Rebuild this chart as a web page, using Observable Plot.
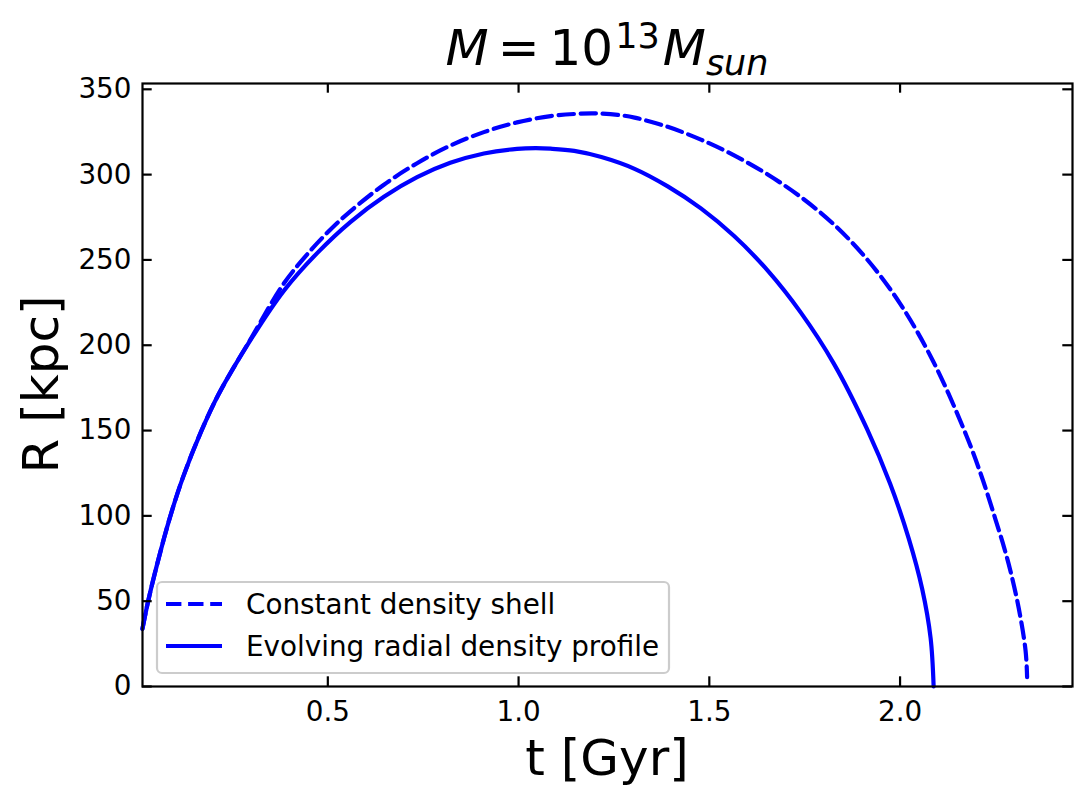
<!DOCTYPE html>
<html>
<head>
<meta charset="utf-8">
<script src="https://cdn.jsdelivr.net/npm/d3@7"></script>
<script src="https://cdn.jsdelivr.net/npm/@observablehq/plot@0.6"></script>
<style>
  html, body { margin: 0; padding: 0; background: white; }
  #chart { position: relative; width: 1092px; height: 804px; }
</style>
</head>
<body>
<div id="chart"></div>
<script>
// ---- data ----
const constT = [0.014, 0.029, 0.053, 0.086, 0.121, 0.168, 0.213, 0.300, 0.385, 0.455, 0.507, 0.559, 0.647, 0.734, 0.821, 0.909, 0.996, 1.084, 1.150, 1.200, 1.260, 1.304, 1.391, 1.478, 1.565, 1.652, 1.739, 1.826, 1.913, 2.000, 2.087, 2.174, 2.217, 2.250, 2.272, 2.289, 2.311, 2.329, 2.333];
const constR = [33.8, 50, 72, 99, 123, 149.5, 171, 204.5, 236.3, 255.6, 267.8, 278.5, 294.1, 306.7, 317, 324.9, 330.6, 334.3, 335.6, 335.9, 335.0, 333.4, 328, 320.5, 311.3, 300.2, 287, 270.9, 250.5, 224.4, 190.5, 147, 121, 98, 82, 68, 46, 21, 5.5];

const evolT = [0.014, 0.029, 0.053, 0.086, 0.121, 0.168, 0.213, 0.300, 0.385, 0.472, 0.559, 0.647, 0.734, 0.821, 0.909, 0.996, 1.045, 1.084, 1.146, 1.217, 1.304, 1.391, 1.478, 1.565, 1.652, 1.739, 1.826, 1.913, 1.974, 2.023, 2.058, 2.080, 2.088];
const evolR = [33.8, 50, 72, 99, 123, 149.5, 171, 204, 232, 254, 272.2, 287, 298.5, 306.9, 312.4, 315.1, 315.5, 315.2, 313.9, 310.3, 303.4, 293.1, 280.2, 264.0, 244.0, 219.4, 189.4, 151.1, 118.8, 86.5, 57.1, 28.5, 0];

const xTicks = [0.5, 1.0, 1.5, 2.0];
const yTicks = [0, 50, 100, 150, 200, 250, 300, 350];
const xDomain = [0.0142, 2.452];
const yDomain = [0, 353.4];

const seriesNames = ["Constant density shell", "Evolving radial density profile"];
const titleParts = { base: "M", eq: "=", ten: "10", exp: "13", sym: "M", sub: "sun" };
const xLabel = "t [Gyr]";
const yLabel = "R [kpc]";

// ---- build tables ----
const constData = constT.map((t, i) => ({t, r: constR[i]}));
const evolData = evolT.map((t, i) => ({t, r: evolR[i]}));

const W = 1092, H = 804;
const mTop = 83, mBottom = 118, mLeft = 142, mRight = 20;
const fw = W - mLeft - mRight, fh = H - mTop - mBottom;
const tickLen = 9.7, lw = 2.2;
const FONT = "DejaVu Sans";
const BLUE = "#0000ff";
const DASH = "15.4,6.7";

const plot = Plot.plot({
  width: W, height: H,
  marginTop: mTop, marginBottom: mBottom, marginLeft: mLeft, marginRight: mRight,
  style: {fontFamily: FONT, fontSize: "27.8px", background: "white", overflow: "visible"},
  x: {domain: xDomain, label: null},
  y: {domain: yDomain, label: null},
  marks: [
    Plot.line(constData, {x: "t", y: "r", stroke: BLUE, strokeWidth: 4.2, strokeDasharray: DASH, curve: "catmull-rom"}),
    Plot.line(evolData, {x: "t", y: "r", stroke: BLUE, strokeWidth: 4.2, curve: "catmull-rom"}),
    // inward ticks on all four sides
    Plot.ruleX(xTicks, {x: d => d, insetTop: fh - tickLen, stroke: "black", strokeWidth: lw}),
    Plot.ruleX(xTicks, {x: d => d, insetBottom: fh - tickLen, stroke: "black", strokeWidth: lw}),
    Plot.ruleY(yTicks, {y: d => d, insetRight: fw - tickLen, stroke: "black", strokeWidth: lw}),
    Plot.ruleY(yTicks, {y: d => d, insetLeft: fw - tickLen, stroke: "black", strokeWidth: lw}),
    Plot.frame({stroke: "black", strokeWidth: lw}),
    Plot.axisX(xTicks, {tickSize: 0, tickPadding: 15, fontSize: 27.8, label: null, tickFormat: d3.format(".1f"), fill: "black"}),
    Plot.axisY(yTicks, {tickSize: 0, tickPadding: 11, fontSize: 27.8, label: null, tickFormat: d3.format("d"), fill: "black"})
  ]
});

document.getElementById("chart").appendChild(plot);
const svg = d3.select(plot);

// ---- title with math layout ----
const title = svg.append("text")
  .attr("x", mLeft + fw / 2).attr("y", 65)
  .attr("text-anchor", "middle")
  .attr("font-family", FONT).attr("font-size", 50).attr("fill", "black");
title.append("tspan").attr("font-style", "italic").text(titleParts.base);
title.append("tspan").attr("dx", 9).text(titleParts.eq);
title.append("tspan").attr("dx", 10).text(titleParts.ten);
title.append("tspan").attr("font-size", 35).attr("dy", -17).attr("dx", 2).text(titleParts.exp);
title.append("tspan").attr("font-size", 50).attr("dy", 17).attr("dx", 3).attr("font-style", "italic").text(titleParts.sym);
title.append("tspan").attr("font-size", 35).attr("dy", 10).attr("font-style", "italic").text(titleParts.sub);

// ---- axis labels ----
svg.append("text")
  .attr("x", mLeft + fw / 2).attr("y", 775)
  .attr("text-anchor", "middle")
  .attr("font-family", FONT).attr("font-size", 50).attr("fill", "black")
  .text(xLabel);
svg.append("text")
  .attr("transform", `translate(58,${mTop + fh / 2}) rotate(-90)`)
  .attr("text-anchor", "middle")
  .attr("font-family", FONT).attr("font-size", 50).attr("fill", "black")
  .text(yLabel);

// ---- legend ----
const lg = svg.append("g").attr("font-family", FONT).attr("font-size", 27.8).attr("text-anchor", "start");
lg.append("rect")
  .attr("x", 157).attr("y", 582).attr("width", 512).attr("height", 91)
  .attr("rx", 5).attr("fill", "white").attr("fill-opacity", 0.8)
  .attr("stroke", "#cccccc").attr("stroke-width", 2.2);
const entries = [
  {name: seriesNames[0], dash: DASH, y: 604},
  {name: seriesNames[1], dash: null, y: 646}
];
entries.forEach(e => {
  lg.append("line")
    .attr("x1", 166).attr("x2", 222).attr("y1", e.y).attr("y2", e.y)
    .attr("stroke", BLUE).attr("stroke-width", 4.2)
    .attr("stroke-dasharray", e.dash);
  lg.append("text").attr("x", 246).attr("y", e.y + 10)
    .attr("text-anchor", "start").attr("fill", "black").text(e.name);
});
</script>
</body>
</html>
